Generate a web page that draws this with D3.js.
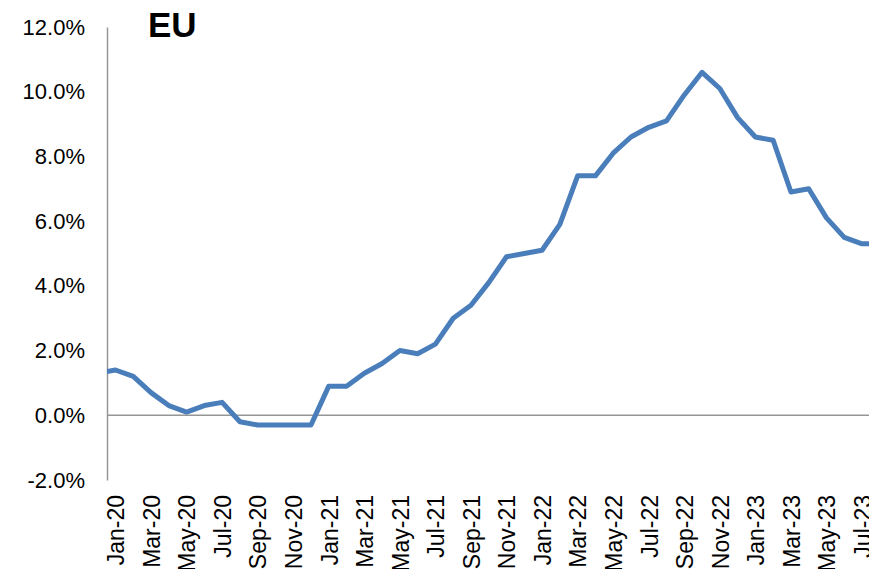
<!DOCTYPE html>
<html>
<head>
<meta charset="utf-8">
<script src="https://cdn.jsdelivr.net/npm/d3@7"></script>
<style>
  body { margin: 0; background: #fff; }
  svg { display: block; font-family: "Liberation Sans", Arial, sans-serif; }
</style>
</head>
<body>
<svg id="chart"></svg>
<script>
// months shown (Dec-19 and Aug-23 sit just outside the visible plot)
var months = ['Dec-19',
  'Jan-20','Feb-20','Mar-20','Apr-20','May-20','Jun-20','Jul-20','Aug-20','Sep-20','Oct-20','Nov-20','Dec-20',
  'Jan-21','Feb-21','Mar-21','Apr-21','May-21','Jun-21','Jul-21','Aug-21','Sep-21','Oct-21','Nov-21','Dec-21',
  'Jan-22','Feb-22','Mar-22','Apr-22','May-22','Jun-22','Jul-22','Aug-22','Sep-22','Oct-22','Nov-22','Dec-22',
  'Jan-23','Feb-23','Mar-23','Apr-23','May-23','Jun-23','Jul-23','Aug-23'];

var values = [1.3,
  1.4, 1.2, 0.7, 0.3, 0.1, 0.3, 0.4, -0.2, -0.3, -0.3, -0.3, -0.3,
  0.9, 0.9, 1.3, 1.6, 2.0, 1.9, 2.2, 3.0, 3.4, 4.1, 4.9, 5.0,
  5.1, 5.9, 7.4, 7.4, 8.1, 8.6, 8.9, 9.1, 9.9, 10.6, 10.1, 9.2,
  8.6, 8.5, 6.9, 7.0, 6.1, 5.5, 5.3, 5.3];

var xTickLabels = ['Jan-20','Mar-20','May-20','Jul-20','Sep-20','Nov-20',
  'Jan-21','Mar-21','May-21','Jul-21','Sep-21','Nov-21',
  'Jan-22','Mar-22','May-22','Jul-22','Sep-22','Nov-22',
  'Jan-23','Mar-23','May-23','Jul-23'];

var yTicks = [-2, 0, 2, 4, 6, 8, 10, 12];

var width = 869;
var height = 569;
var axisX = 107;

var svg = d3.select('#chart')
  .attr('width', width)
  .attr('height', height);

var x = d3.scalePoint()
  .domain(months)
  .range([97.7, 879.8]);

var y = d3.scaleLinear()
  .domain([-2, 12])
  .range([480, 27]);

// clip so the line starts at the value axis
svg.append('clipPath')
  .attr('id', 'plot-clip')
  .append('rect')
  .attr('x', axisX)
  .attr('y', 0)
  .attr('width', width - axisX)
  .attr('height', height);

// zero line
svg.append('line')
  .attr('x1', axisX)
  .attr('x2', width)
  .attr('y1', y(0))
  .attr('y2', y(0))
  .attr('stroke', '#969696')
  .attr('stroke-width', 1.5);

// y axis
var yAxis = svg.append('g')
  .attr('transform', 'translate(' + axisX + ',0)')
  .call(d3.axisLeft(y)
    .tickValues(yTicks)
    .tickSize(0)
    .tickPadding(22)
    .tickFormat(function (d) { return d.toFixed(1) + '%'; }));

yAxis.select('.domain')
  .attr('stroke', '#969696')
  .attr('stroke-width', 1.5);

yAxis.selectAll('text')
  .attr('font-size', 22)
  .attr('fill', '#000')
  .attr('font-family', '"Liberation Sans", Arial, sans-serif');

// x axis labels (rotated)
var xAxis = svg.append('g')
  .attr('transform', 'translate(0,' + y(-2) + ')')
  .call(d3.axisBottom(x).tickValues(xTickLabels).tickSize(0));

xAxis.select('.domain').remove();

xAxis.selectAll('text')
  .attr('transform', 'rotate(-90)')
  .attr('text-anchor', 'end')
  .attr('x', -15)
  .attr('y', 0)
  .attr('dy', '0.36em')
  .attr('font-size', 23)
  .attr('fill', '#000')
  .attr('font-family', '"Liberation Sans", Arial, sans-serif');

// series line
var line = d3.line()
  .x(function (d, i) { return x(months[i]); })
  .y(function (d) { return y(d); });

svg.append('path')
  .datum(values)
  .attr('clip-path', 'url(#plot-clip)')
  .attr('d', line)
  .attr('fill', 'none')
  .attr('stroke', '#4a7ebb')
  .attr('stroke-width', 5)
  .attr('stroke-linejoin', 'round');

// title
svg.append('text')
  .attr('x', 148)
  .attr('y', 37)
  .attr('font-size', 35)
  .attr('font-weight', 'bold')
  .attr('fill', '#000')
  .text('EU');
</script>
</body>
</html>
